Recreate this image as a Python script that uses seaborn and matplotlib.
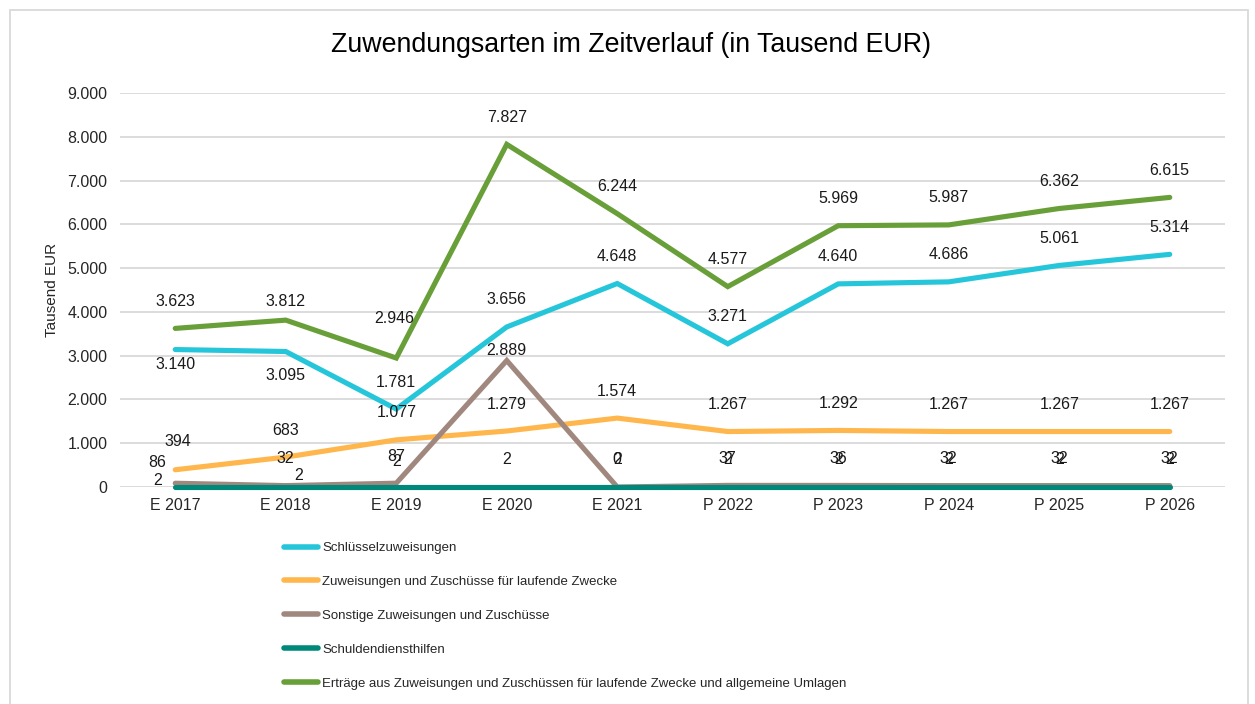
import pandas as pd
import numpy as np
from matplotlib import pyplot as plt
from matplotlib.patches import Rectangle
import seaborn as sns

# data (Tausend EUR)
years = ['E 2017', 'E 2018', 'E 2019', 'E 2020', 'E 2021',
         'P 2022', 'P 2023', 'P 2024', 'P 2025', 'P 2026']
schluessel = [3140, 3095, 1781, 3656, 4648, 3271, 4640, 4686, 5061, 5314]
laufend = [394, 683, 1077, 1279, 1574, 1267, 1292, 1267, 1267, 1267]
sonstige = [86, 32, 87, 2889, 0, 37, 36, 32, 32, 32]
schulden = [2, 2, 2, 2, 2, 2, 2, 2, 2, 2]
ertraege = [3623, 3812, 2946, 7827, 6244, 4577, 5969, 5987, 6362, 6615]

series_names = [
    'Schlüsselzuweisungen',
    'Zuweisungen und Zuschüsse für laufende Zwecke',
    'Sonstige Zuweisungen und Zuschüsse',
    'Schuldendiensthilfen',
    'Erträge aus Zuweisungen und Zuschüssen für laufende Zwecke und allgemeine Umlagen',
]
series_values = [schluessel, laufend, sonstige, schulden, ertraege]
colors = ['#26C6DA', '#FFB74D', '#A1887F', '#00897B', '#689F38']

rows = []
for name, vals in zip(series_names, series_values):
    for yr, v in zip(years, vals):
        rows.append({'Jahr': yr, 'Wert': v, 'Art': name})
df = pd.DataFrame(rows)

# label placement tweaks (pixel offsets), default is centred 27 px above the point
default_off = (0, 27)
label_off = {
    (0, 0): (0, -15), (0, 1): (0, -24),
    (1, 0): (3, 28),
    (2, 0): (-18, 21), (2, 3): (0, 10),
    (3, 0): (-18, 6), (3, 1): (13, 11), (3, 2): (0, 25),
    (4, 1): (0, 19), (4, 2): (-2, 40),
}

sns.set_style('white')
plt.rcParams['font.family'] = ['Liberation Sans', 'DejaVu Sans']

fig = plt.figure(figsize=(12.55, 7.04), dpi=100)
ax = fig.add_axes([120 / 1255, 1 - 487 / 704, 1105 / 1255, 394 / 704])

sns.lineplot(data=df, x='Jahr', y='Wert', hue='Art', palette=colors,
             linewidth=3.7, sort=False, ax=ax, legend=True)
for ln in ax.get_lines():
    ln.set_solid_capstyle('round')
    ln.set_solid_joinstyle('miter')
    ln.set_clip_on(False)

ax.set_xlim(-0.5, len(years) - 0.5)
ax.set_ylim(0, 9000)
ax.set_yticks(np.arange(0, 9001, 1000))
ax.set_yticklabels([f'{int(t):,}'.replace(',', '.') for t in np.arange(0, 9001, 1000)])
ax.grid(axis='y', color='#D9D9D9', linewidth=1.3)
ax.set_axisbelow(True)
for s in ax.spines.values():
    s.set_visible(False)
ax.tick_params(axis='both', length=0, labelsize=11.5, colors='#262626')
ax.tick_params(axis='y', pad=9)
ax.tick_params(axis='x', pad=8)
ax.set_xlabel('')
ax.set_ylabel('Tausend EUR', fontsize=11, color='#262626')
ax.yaxis.set_label_coords(-0.0552, 0.5)

# data labels
for si, vals in enumerate(series_values):
    for xi, v in enumerate(vals):
        dx, dy = label_off.get((si, xi), default_off)
        ax.annotate(f'{v:,}'.replace(',', '.'), (xi, v), xytext=(dx, dy),
                    textcoords='offset pixels', ha='center', va='center',
                    fontsize=11.5, color='#1a1a1a')

handles, labels = ax.get_legend_handles_labels()
ax.get_legend().remove()
for h, c in zip(handles, colors):
    h.set_linewidth(4)
    h.set_color(c)
    h.set_solid_capstyle('round')
fig.legend(handles, labels, loc='upper left',
           bbox_to_anchor=(284 / 1255, 1 - 542 / 704),
           frameon=False, borderpad=0, borderaxespad=0, handlelength=2.58,
           handletextpad=0.3, labelspacing=1.64,
           prop={'size': 9.5})

fig.text(631 / 1255, 1 - 45 / 704, 'Zuwendungsarten im Zeitverlauf (in Tausend EUR)',
         ha='center', va='center', fontsize=19.3, color='#000000')

fig.patches.append(Rectangle((10 / 1255, -0.05), 1238 / 1255, 1.05 - 10 / 704,
                             transform=fig.transFigure, fill=False,
                             edgecolor='#D9D9D9', linewidth=1.3))

fig.savefig('out.png', dpi=100)
